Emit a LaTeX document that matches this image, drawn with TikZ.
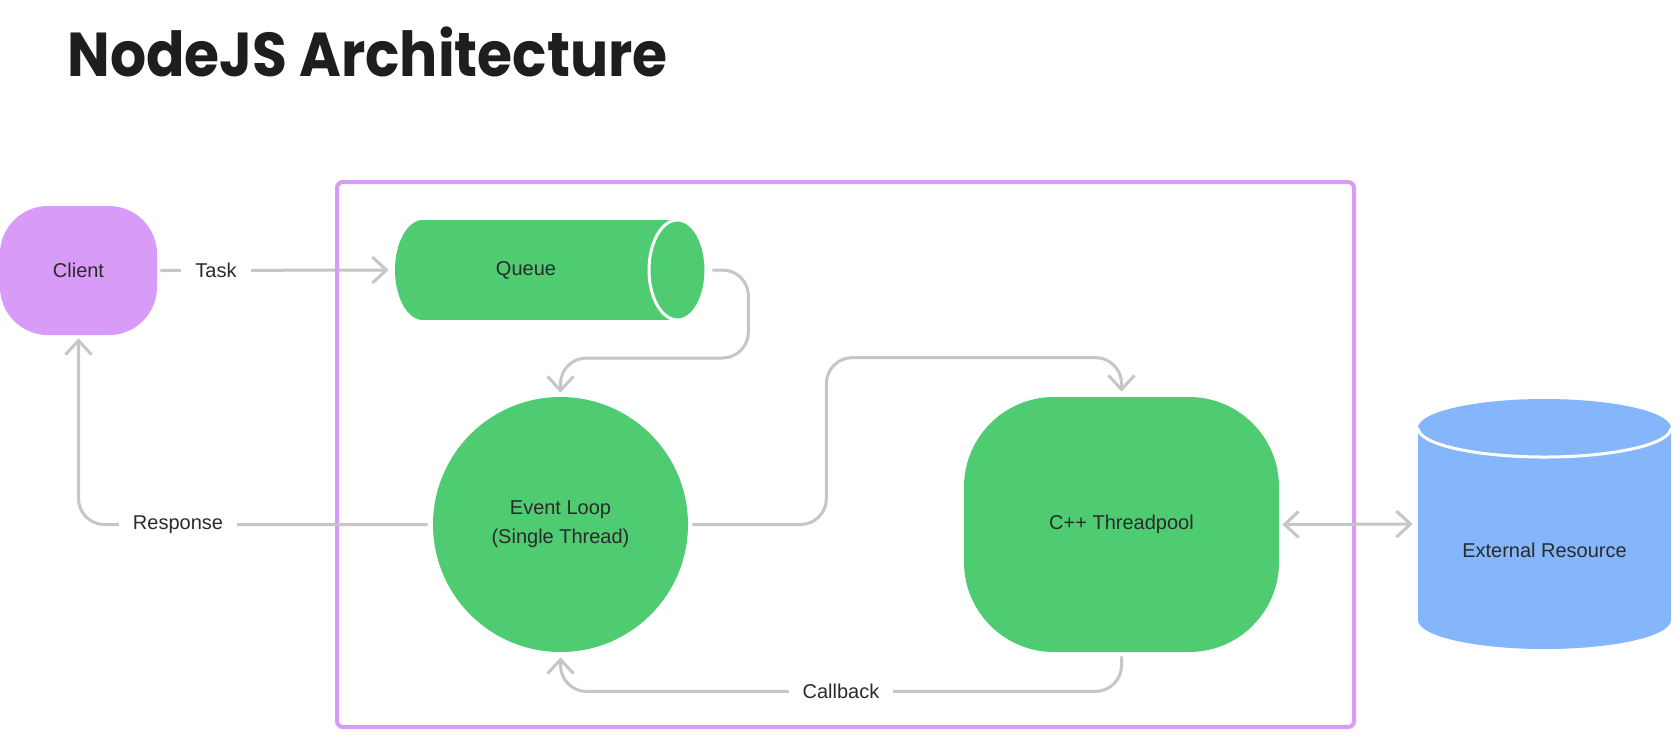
\documentclass[tikz,border=0pt]{standalone}
\usepackage{fontspec}
\setmainfont{Liberation Sans}
\newfontfamily\titlefont[FakeStretch=0.915]{Poppins}
\usetikzlibrary{arrows.meta,calc}
\definecolor{purp}{HTML}{D89BF8}
\definecolor{grn}{HTML}{4FCB71}
\definecolor{blu}{HTML}{85B5FA}
\definecolor{conngray}{HTML}{C6C6C6}
\definecolor{txt}{HTML}{2B2B2B}
\definecolor{ttl}{HTML}{1E1E1E}
\tikzset{
  >={Straight Barb[length=7pt,width=13pt]},
  conn/.style={draw=conngray, line width=1.5pt, rounded corners=13pt, ->},
  lbl/.style={fill=white, text=txt, font=\fontsize{10}{12}\selectfont, inner xsep=7pt, inner ysep=3pt},
  shapetext/.style={text=txt, font=\fontsize{10}{14.5}\selectfont, align=center},
}
\begin{document}
\begin{tikzpicture}[x=0.5pt,y=-0.5pt]
\useasboundingbox[fill=white] (0,0) rectangle (1680,752);

% title
\node[anchor=base west, inner sep=0, text=ttl, font=\titlefont\bfseries\fontsize{31}{36}\selectfont] (T) at (67,76) {NodeJS Architecture};

% client
\node[shapetext, fill=purp, rounded corners=24pt, minimum width=78.5pt, minimum height=64.5pt, inner sep=0] (C) at (78.5,270.5) {Client};

% queue (horizontal cylinder)
\fill[grn] (423,220) rectangle (677,320);
\fill[grn] (423,270) ellipse [x radius=28, y radius=50];
\draw[white, line width=1.5pt, fill=grn] (677.5,270) ellipse [x radius=28.5, y radius=50];
\node[minimum width=155.5pt, minimum height=50pt, inner sep=0] (Q) at (550.5,270) {};
\node[shapetext] (QT) at (526,270) {Queue};

% event loop
\node[shapetext, circle, fill=grn, minimum size=127.5pt, inner sep=0] (EL) at (560.5,524.5) {Event Loop\\(Single Thread)};

% threadpool
\node[shapetext, fill=grn, rounded corners=45pt, minimum width=157.5pt, minimum height=127.5pt, inner sep=0] (TP) at (1121.5,524.5) {C++ Threadpool};

% external resource (vertical cylinder)
\fill[blu] (1418,428) rectangle (1671,620);
\fill[blu] (1544.5,620) ellipse [x radius=126.5, y radius=29];
\fill[blu] (1544.5,428) ellipse [x radius=126.5, y radius=29];
\draw[white, line width=1.5pt] (1418,428) arc [start angle=180, end angle=0, x radius=126.5, y radius=29];
\node[minimum width=126.5pt, minimum height=125pt, inner sep=0] (EXT) at (1544.5,524) {};
\node[shapetext] (EXTT) at (1544.5,550) {External Resource};

% connectors
\draw[conn, shorten <=1.5pt, shorten >=3pt] (C.east) -- (Q.west);
\node[lbl] (LT) at (216,270) {Task};

% frame
\draw[purp, line width=2pt, rounded corners=3pt] (337,182) rectangle (1354,727);

\draw[conn, shorten <=3pt, shorten >=2pt] (Q.east) -- ++(42,0) -- ++(0,88) -| (EL.north);
\draw[conn, shorten <=2pt, shorten >=2.5pt] (EL.east) -- ++(138,0) |- ($(TP.north)+(0,-39)$) -- (TP.north);
\draw[conn, shorten <=2pt, shorten >=2.5pt] (TP.south) -- ++(0,39) -| (EL.south);
\node[lbl] (LC) at (841,691) {Callback};
\draw[conn, shorten <=2.5pt, shorten >=1.5pt] (EL.west) -| (C.south);
\node[lbl] (LR) at (178,524.5) {Response};
\draw[conn, <->, shorten <=1.5pt, shorten >=2.5pt] (TP.east) -- (EXT.west);
\end{tikzpicture}
\end{document}
